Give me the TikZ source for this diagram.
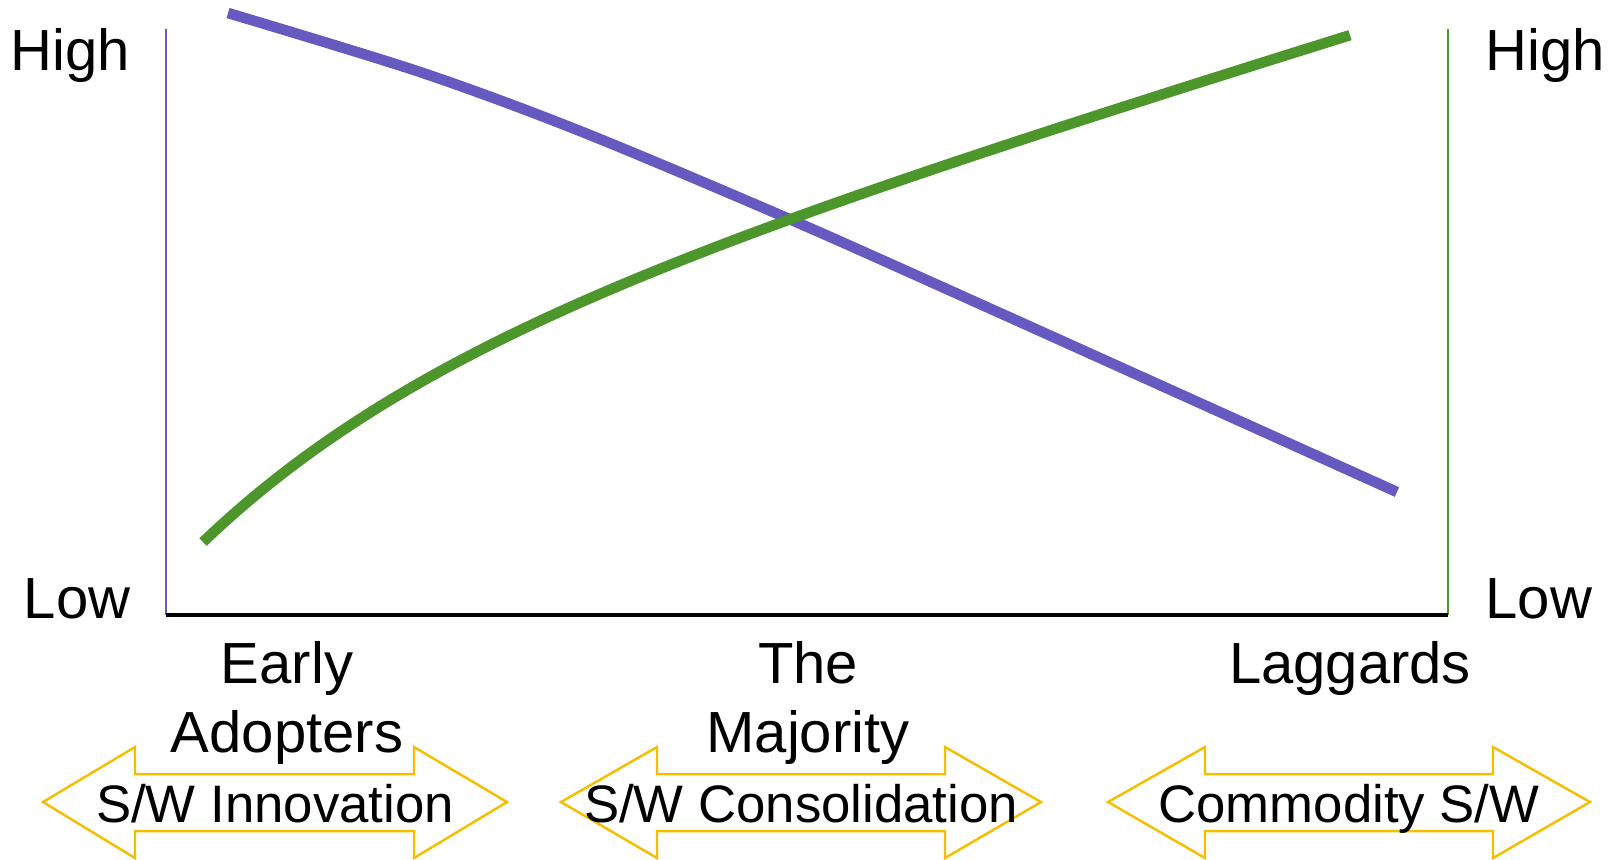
\documentclass[tikz,border=0pt]{standalone}
\usepackage{fontspec}
\setmainfont{Liberation Sans}
\definecolor{costline}{HTML}{6659C0}
\definecolor{valueline}{HTML}{4C962C}
\definecolor{phasegold}{HTML}{F5BE00}
\begin{document}
\begin{tikzpicture}[x=0.01cm, y=-0.01cm,
    level/.style={font=\fontsize{16.5}{19.6}\selectfont, inner sep=0pt},
    group/.style={font=\fontsize{16.5}{19.6}\selectfont, align=center, inner sep=0pt, anchor=north},
    phase/.style={draw=phasegold, line width=0.7pt, line join=miter},
    phasetext/.style={font=\fontsize{15}{18}\selectfont, inner sep=0pt, anchor=base}]
    \useasboundingbox (0,0) rectangle (1608,859);

    % Axes
    \coordinate (lt) at (166,29);
    \coordinate (o) at (166,615);
    \coordinate (r) at (1448,615);
    \coordinate (rt) at (1448,29);
    \draw[costline, line width=0.6pt] (lt) -- (o);
    \draw[valueline, line width=0.6pt] (rt) -- (r);
    \draw[line width=0.9pt] (o) -- (r);

    % Level labels
    \node[level, anchor=base east] (highl) at (131,70) {High};
    \node[level, anchor=base east] (lowl) at (131,618) {Low};
    \node[level, anchor=base west] (highr) at (1485,70) {High};
    \node[level, anchor=base west] (lowr) at (1485,618) {Low};

    % Curves
    \draw[costline, line width=3pt] plot[smooth] coordinates {(228,13) (420,72) (580,131) (787,218) (1000,313) (1397,492)};
    \draw[valueline, line width=3pt] plot[domain=0:1147, samples=80, smooth] ({203+\x}, {542-0.307*\x-156*(1-exp(-\x/240))});

    % Adopter groups
    \node[group] (early) at (287,641) {Early\\Adopters};
    \node[group] (major) at (808,641) {The\\Majority};
    \node[group] (lagg) at (1350,641) {Laggards};

    % Phase arrows
    \draw[phase] (43,802) -- (135,747) -- (135,774) -- (414,774) -- (414,747) -- (507,802) -- (414,858) -- (414,831) -- (135,831) -- (135,858) -- cycle;
    \draw[phase] (561,802) -- (657,747) -- (657,774) -- (945,774) -- (945,747) -- (1041,802) -- (945,858) -- (945,831) -- (657,831) -- (657,858) -- cycle;
    \draw[phase] (1108,802) -- (1205,747) -- (1205,774) -- (1493,774) -- (1493,747) -- (1590,802) -- (1493,858) -- (1493,831) -- (1205,831) -- (1205,858) -- cycle;
    \node[phasetext] (innov) at (275,822) {S/W Innovation};
    \node[phasetext] (consol) at (801,822) {S/W Consolidation};
    \node[phasetext] (commod) at (1349,822) {Commodity S/W};
\end{tikzpicture}
\end{document}
